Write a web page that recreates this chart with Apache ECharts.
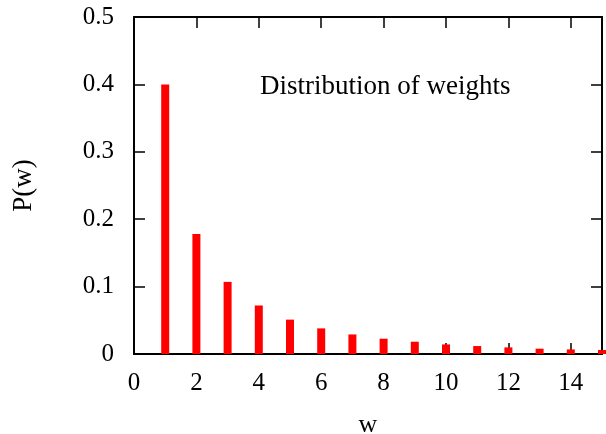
<!DOCTYPE html>
<html><head><meta charset="utf-8">
<script src="https://cdn.jsdelivr.net/npm/echarts@6/dist/echarts.min.js"></script>
<style>html,body{margin:0;padding:0;background:#fff}#c{width:606px;height:434px}</style>
</head><body><div id="c"></div>
<script>
const weights = [1,2,3,4,5,6,7,8,9,10,11,12,13,14,15];
const probs = [0.400,0.178,0.107,0.072,0.051,0.038,0.029,0.0227,0.0182,0.0142,0.0118,0.0098,0.0079,0.0068,0.0059];
const titleText = 'Distribution of weights';
const xName = 'w', yName = 'P(w)';
const FONT = '"Liberation Serif", "Times New Roman", serif';
const FS = 25;
const chart = echarts.init(document.getElementById('c'));
const axLine = {show:true, onZero:false, lineStyle:{color:'#000', width:2}};
const tick = {show:true, inside:true, length:11, lineStyle:{color:'#000', width:1.5}};
chart.setOption({
  animation:false,
  backgroundColor:'#fff',
  title:{text:titleText, left:255, top:68, textStyle:{fontFamily:FONT, fontSize:27, fontWeight:'normal', color:'#000'}},
  grid:{left:134, right:4, top:17, bottom:80, containLabel:false, outerBoundsMode:'none'},
  xAxis:[{type:'value', min:0, max:15, interval:2, name:xName, nameLocation:'middle', nameGap:58,
    nameTextStyle:{fontFamily:FONT, fontSize:26, color:'#000'},
    axisLine:axLine, axisTick:tick, splitLine:{show:false},
    axisLabel:{showMaxLabel:false, margin:17, fontFamily:FONT, fontSize:FS, color:'#000'}},
    {type:'value', position:'top', min:0, max:15, interval:2, axisLine:axLine, axisTick:tick, splitLine:{show:false}, axisLabel:{show:false}}],
  yAxis:[{type:'value', min:0, max:0.5, interval:0.1, name:yName, nameLocation:'middle', nameGap:97,
    nameTextStyle:{fontFamily:FONT, fontSize:27, color:'#000'},
    axisLine:axLine, axisTick:tick, splitLine:{show:false},
    axisLabel:{margin:20, fontFamily:FONT, fontSize:FS, color:'#000'}},
    {type:'value', position:'right', min:0, max:0.5, interval:0.1, axisLine:axLine, axisTick:tick, splitLine:{show:false}, axisLabel:{show:false}}],
  series:[{type:'bar', xAxisIndex:0, yAxisIndex:0, barWidth:8, itemStyle:{color:'#ff0000'},
    data: weights.map((w,i)=>[w, probs[i]])}]
});
</script></body></html>
